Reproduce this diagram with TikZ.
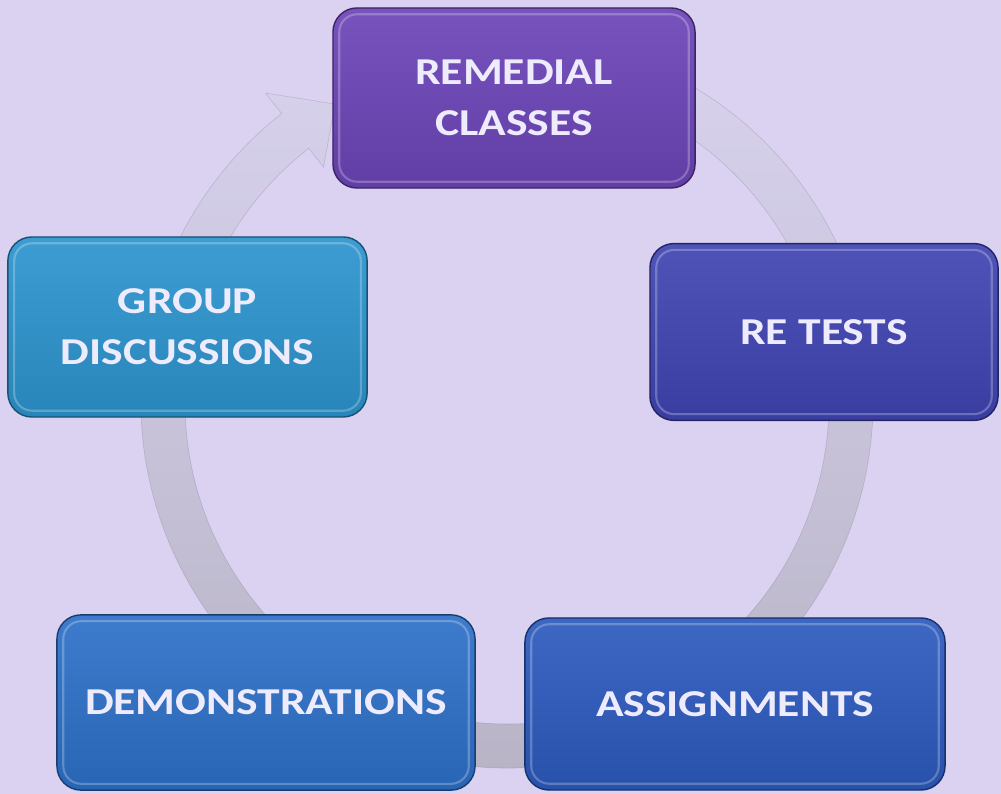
\documentclass[tikz,border=0pt]{standalone}
\usepackage{fontspec}
\newfontfamily\boxfont[FakeStretch=1.2]{Carlito}
\usepackage{tikz}
\usetikzlibrary{calc}

\definecolor{bgcol}{RGB}{218,210,240}
\definecolor{ringtop}{RGB}{218,212,240}
\definecolor{ringmid}{RGB}{194,189,210}
\definecolor{ringbot}{RGB}{184,180,198}
\definecolor{ringedge}{RGB}{120,115,140}
\definecolor{txtcol}{RGB}{238,236,252}
\definecolor{remcol}{RGB}{108,68,184}
\definecolor{retcol}{RGB}{64,68,178}
\definecolor{grpcol}{RGB}{44,148,206}
\definecolor{demcol}{RGB}{45,112,200}
\definecolor{asgcol}{RGB}{44,90,190}

\tikzset{
  box/.style={rounded corners=0.6cm, draw=#1!55!black, line width=1pt,
    top color=#1!92!white, bottom color=#1!90!black, text=txtcol,
    font=\boxfont\bfseries\fontsize{27}{36}\selectfont, align=center, inner sep=0pt},
  gloss/.style={rounded corners=0.45cm, draw=white, opacity=0.25, line width=1.5pt}
}

\begin{document}
\begin{tikzpicture}[x=0.025cm, y=0.025cm]
	%background
	\fill [bgcol] (0,0) rectangle (1001,794);
	\useasboundingbox (0,0) rectangle (1001,794);
	
	%variables
	\def\ro{366}
	\def\ri{322}
	\def\rm{344}
	\coordinate (C) at (507,392);
	
	%ring arrow, clockwise
	\def\ringarrow{($(C)+(75:\ro)$) arc [start angle=75, end angle=-232, radius=\ro]
		-- ($(C)+(-232:392)$) -- ($(C)+(-240:\rm)$) -- ($(C)+(-232:298)$)
		-- ($(C)+(-232:\ri)$) arc [start angle=-232, end angle=75, radius=\ri] -- cycle}
	\begin{scope}
		\clip \ringarrow;
		\shade [top color=ringtop, middle color=ringmid, bottom color=ringbot] (0,20) rectangle (1001,794);
	\end{scope}
	\draw [ringedge, line width=0.4pt, opacity=0.3] \ringarrow;
	
	%steps
	\node [box=remcol, minimum width=9.05cm, minimum height=4.5cm] (remedial) at (514,696) {REMEDIAL\\CLASSES};
	\node [box=retcol, minimum width=8.7cm, minimum height=4.42cm] (retests) at (824,462) {RE TESTS};
	\node [box=asgcol, minimum width=10.5cm, minimum height=4.3cm] (assign) at (735,90) {ASSIGNMENTS};
	\node [box=demcol, minimum width=10.45cm, minimum height=4.38cm] (demos) at (266,91.5) {DEMONSTRATIONS};
	\node [box=grpcol, minimum width=8.98cm, minimum height=4.5cm] (group) at (187.5,467) {GROUP\\DISCUSSIONS};
	
	%highlights
	\foreach \n in {remedial, retests, assign, demos, group}
		\draw [gloss] ($(\n.north west)+(7,-7)$) rectangle ($(\n.south east)+(-7,7)$);
\end{tikzpicture}
\end{document}
